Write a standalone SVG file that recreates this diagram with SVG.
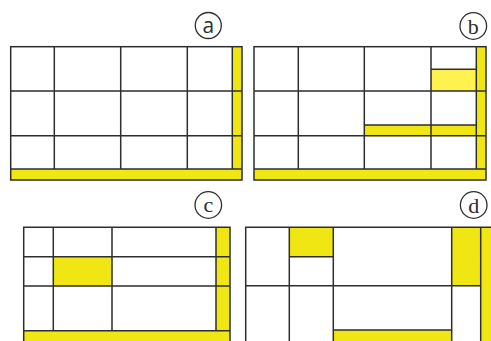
<svg xmlns="http://www.w3.org/2000/svg" width="491" height="341" viewBox="0 0 491 341">
<style>
.y{fill:#f0e614;stroke:none}
.ly{fill:#fff250;stroke:none}
.ln{stroke:#2e2e2e;stroke-width:1.5;fill:none}
.c{fill:#fff;stroke:#2e2e2e;stroke-width:1.3}
.ts{font-family:"Open Sans","Liberation Sans",sans-serif;font-size:21px;fill:#2e2e2e;text-anchor:middle}
.tr{font-family:"Liberation Serif","DejaVu Serif",serif;font-size:22px;fill:#2e2e2e;text-anchor:middle}
</style>
<rect width="491" height="341" fill="#fff"/>
<g id="panel-a">
<rect class="y" x="232.3" y="46.7" width="9.7" height="122.3"/>
<rect class="y" x="10.7" y="169" width="231.3" height="11"/>
<rect class="ln" x="10.7" y="46.7" width="231.3" height="133.3"/>
<path class="ln" d="M54.3 46.7V169M120.7 46.7V169M187.3 46.7V169M232.3 46.7V169M10.7 91H242M10.7 135.7H242M10.7 169H242"/>
<circle class="c" cx="208.3" cy="25.5" r="13"/>
<text class="ts" x="208.3" y="32.5">a</text>
</g>
<g id="panel-b">
<rect class="y" x="476.3" y="46.7" width="9.7" height="122.3"/>
<rect class="y" x="254" y="169" width="232" height="11"/>
<rect class="ly" x="431" y="69.3" width="45.3" height="21.7"/>
<rect class="y" x="364.3" y="125" width="112" height="10.7"/>
<rect class="ln" x="254" y="46.7" width="232" height="133.3"/>
<path class="ln" d="M298.3 46.7V169M364.3 46.7V169M431 46.7V169M476.3 46.7V169M254 91H486M254 135.7H486M254 169H486M431 69.3H476.3M364.3 125H476.3"/>
<circle class="c" cx="473.3" cy="26" r="13.3"/>
<text class="tr" x="473.3" y="33.5">b</text>
</g>
<g id="panel-c">
<rect class="y" x="53.3" y="256.7" width="58.7" height="29.3"/>
<rect class="y" x="216" y="227.3" width="14" height="103.4"/>
<rect class="y" x="23.7" y="330.7" width="206.3" height="15"/>
<path class="ln" d="M23.7 345V227.3H230V345M53.3 227.3V330.7M112 227.3V330.7M216 227.3V330.7M23.7 256.7H230M23.7 286H230M23.7 330.7H230"/>
<circle class="c" cx="208.3" cy="205" r="13.3"/>
<text class="tr" x="208.3" y="212">c</text>
</g>
<g id="panel-d">
<rect class="y" x="289.3" y="227.3" width="44" height="29.4"/>
<rect class="y" x="451.7" y="227.3" width="29" height="58.4"/>
<rect class="y" x="480.7" y="227.3" width="15" height="118"/>
<rect class="y" x="333.3" y="330" width="118.4" height="15"/>
<path class="ln" d="M245.7 345V227.3H495M289.3 227.3V345M333.3 227.3V345M451.7 227.3V345M480.7 227.3V345M245.7 285.7H480.7M289.3 256.7H333.3M333.3 330H451.7"/>
<circle class="c" cx="473.7" cy="205" r="13.3"/>
<text class="tr" x="473.7" y="212.5">d</text>
</g>
</svg>
